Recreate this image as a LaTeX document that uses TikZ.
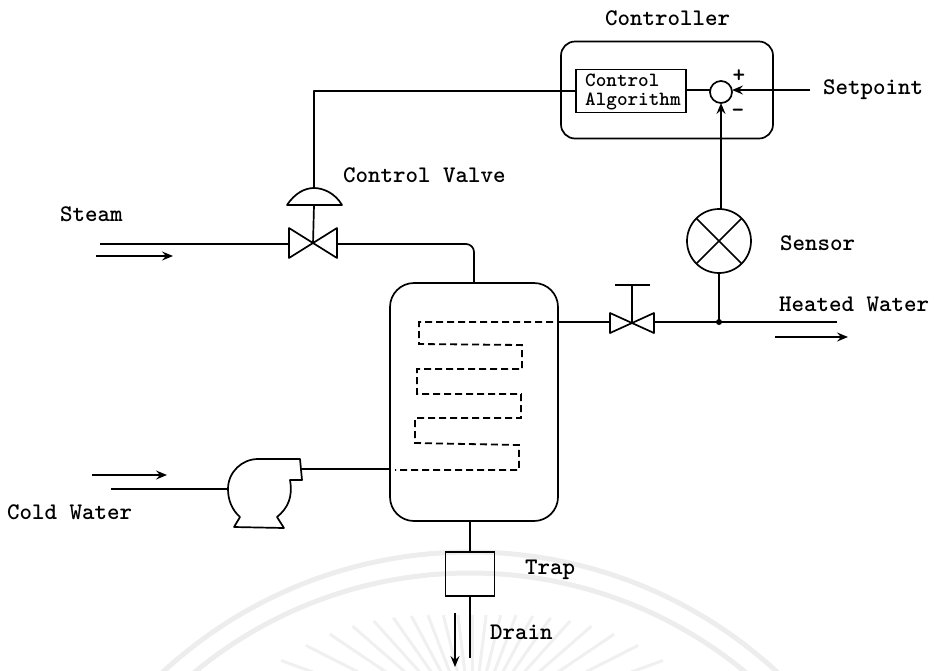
\documentclass[tikz,border=0pt]{standalone}
\usetikzlibrary{arrows.meta,calc}
\tikzset{
  x=1pt,y=-1pt,
  pipe/.style={line width=1.7pt,line join=round},
  flow/.style={line width=1.7pt,-{Stealth[length=11pt,width=9pt,inset=4pt]}},
  coil/.style={line width=1.8pt,dash pattern=on 7pt off 4pt},
  label/.style={font=\fontsize{23.8}{24}\ttfamily\bfseries\selectfont,inner sep=0pt,anchor=west},
  smalllabel/.style={font=\fontsize{20.2}{21}\ttfamily\bfseries\selectfont,inner sep=0pt,anchor=west},
  box/.style={draw,line width=1.7pt,inner sep=0pt,outer sep=0pt},
  signmark/.style={font=\fontsize{24}{24}\ttfamily\bfseries\selectfont,inner sep=0pt},
}
\begin{document}
\begin{tikzpicture}
\useasboundingbox (0,0) rectangle (939,670);
% watermark
\begin{scope}
\clip (0,0) rectangle (939,670);
\draw[gray!14,line width=5pt] (470,1005) circle (453);
\draw[gray!14,line width=5pt] (470,1005) circle (432);
\foreach \a in {-70,-63,...,70}{
  \pgfmathsetmacro\rr{115+0.018*\a*\a}
  \draw[gray!12,line width=3pt] (472,730) ++({90+\a}:-\rr) -- ++({90+\a}:90);
}
\end{scope}
% boxes
\node[box,rounded corners=14pt,minimum width=212pt,minimum height=97pt] (ctrl) at (667,90) {};
\node[box,minimum width=110pt,minimum height=43pt] (algo) at (631,91) {};
\node[box,circle,minimum size=22pt] (sum) at (721,92) {};
\node[box,circle,minimum size=64pt] (sensor) at (719,241) {};
\node[box,rounded corners=24pt,minimum width=168pt,minimum height=238pt] (vessel) at (474,402) {};
\node[box,minimum width=49pt,minimum height=44pt] (trap) at (470,574) {};
% labels
\node[label] (lc) at (605,18) {Controller};
\node[smalllabel] (la1) at (585,80) {Control};
\node[smalllabel] (la2) at (585,101) {Algorithm};
\node[label] (lset) at (823,90) {Setpoint};
\node[label] (lcv) at (343,175) {Control Valve};
\node[label] (lsteam) at (60,214) {Steam};
\node[label] (lsens) at (780,243) {Sensor};
\node[label] (lhw) at (779,304) {Heated Water};
\node[label] (lcw) at (7,512) {Cold Water};
\node[label] (ltrap) at (525,570) {Trap};
\node[label] (ldrain) at (490,632) {Drain};
\node[signmark] (plus) at (739,76) {+};
\node[signmark] (minus) at (738,113) {\textendash};
% coordinates
\coordinate (sp) at (810,90);
\coordinate (cvstem) at (314,91);
\coordinate (dometop) at (314,188);
\coordinate (domel) at (287,205);
\coordinate (domer) at (342,205);
\coordinate (cv) at (313,244);
\coordinate (steamin) at (100,244);
\coordinate (cvl) at (289,244);
\coordinate (cvr) at (337,244);
\coordinate (hvin) at (474,283);
\coordinate (hv) at (632,322);
\coordinate (hvl) at (610,322);
\coordinate (hvr) at (654,322);
\coordinate (ves) at (558,322);
\coordinate (hwend) at (837,322);
\coordinate (tee) at (719,322);
\coordinate (pumpin) at (228,489);
\coordinate (coldin) at (111,489);
\coordinate (pumpout) at (301,469);
\coordinate (vesin) at (390,469);
\coordinate (drainend) at (470,658);
% controller signals
\draw[pipe] (algo.east |- 0,90) -- (sum.west |- 0,90);
\draw[flow] (sp) -- (sum.east |- 0,90);
\draw[pipe] (algo.west) -- (cvstem) -- (dometop);
\draw[flow] (sensor.north -| sum) -- (sum.south);
% control valve
\draw[pipe] (domel) .. controls (295,193) and (305,188) .. (dometop) .. controls (323,188) and (335,193) .. (domer) -- cycle;
\draw[pipe] (dometop |- domel) -- (cv);
\draw[pipe] (cvl |- 0,228) -- (cvr |- 0,258) -- (cvr |- 0,228) -- (cvl |- 0,258) -- cycle;
\draw[pipe] (steamin) -- (cvl);
\draw[pipe,rounded corners=8pt] (cvr) -- (hvin |- cvr) -- (hvin);
% outlet
\draw[pipe] (ves) -- (hvl);
\draw[pipe] (hvl |- 0,313) -- (hvr |- 0,333) -- (hvr |- 0,313) -- (hvl |- 0,333) -- cycle;
\draw[pipe] (hv) -- (hv |- 0,285);
\draw[pipe] (615,285) -- (650,285);
\draw[pipe] (hvr) -- (hwend);
\draw[pipe] (sensor.south) -- (tee);
\fill (tee) circle (3pt);
\draw[flow] (775,337) -- (848,337);
\draw[flow] (96,256) -- (173,256);
\draw[flow] (92,475) -- (167,475);
% coil
\draw[coil] (553,322) -- (419,322) -- (419,344) -- (522,345) -- (522,369) -- (417,369) -- (417,394) -- (521,394) -- (521,418) -- (415,418) -- (415,443) -- (519,445) -- (519,470) -- (395,470);
% pump
\draw[pipe] (240,517) .. controls (232,510) and (228,500) .. (228,489)
  .. controls (228,472) and (242,459) .. (258,459) -- (300,459) -- (302,480) -- (290,480)
  .. controls (293,497) and (288,508) .. (277,517) -- (284,528) -- (234,527) -- cycle;
\draw[pipe] (coldin) -- (pumpin);
\draw[pipe] (pumpout) -- (vesin);
% trap and drain
\draw[pipe] (vessel.south -| trap) -- (trap.north);
\draw[pipe] (trap.south) -- (drainend);
\draw[flow] (455,613) -- (455,667);
% sensor cross
\draw[pipe] (sensor.45) -- (sensor.225);
\draw[pipe] (sensor.135) -- (sensor.315);
\end{tikzpicture}
\end{document}
